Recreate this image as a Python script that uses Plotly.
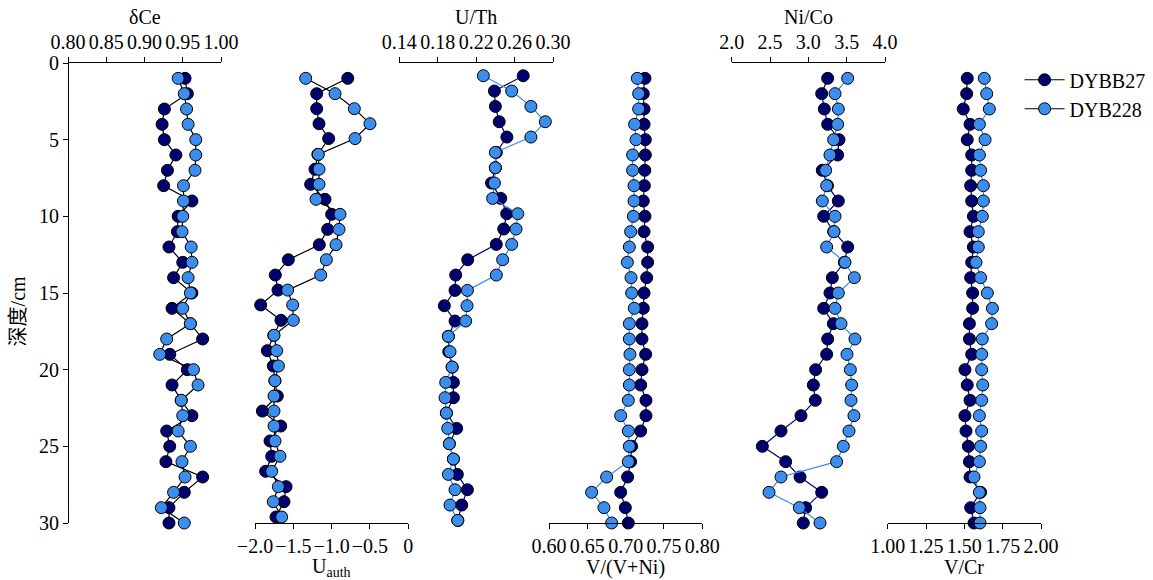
import plotly.graph_objects as go

# ---------------- data ----------------
depth = list(range(1, 31))
depth_uauth = [1.0, 2.0, 2.98, 3.96, 4.93, 5.96, 6.93, 7.91, 8.89, 9.87, 10.85, 11.85, 12.83, 13.83, 14.81,
               15.78, 16.78, 17.76, 18.76, 19.76, 20.72, 21.72, 22.70, 23.68, 24.65, 25.65, 26.63, 27.63, 28.61, 29.61]
depth_uth = [0.83, 1.83, 2.83, 3.83, 4.83, 5.83, 6.83, 7.83, 8.83, 9.83, 10.83, 11.83, 12.83, 13.83, 14.83,
             15.83, 16.83, 17.83, 18.83, 19.83, 20.83, 21.83, 22.83, 23.83, 24.83, 25.83, 26.83, 27.83, 28.83, 29.83]

dce_b27 = [0.953, 0.956, 0.926, 0.923, 0.926, 0.941, 0.930, 0.925, 0.962, 0.944, 0.943, 0.932, 0.950, 0.938, 0.962,
           0.936, 0.960, 0.976, 0.933, 0.956, 0.936, 0.948, 0.962, 0.929, 0.933, 0.928, 0.976, 0.952, 0.932, 0.932]
dce_b228 = [0.944, 0.952, 0.955, 0.957, 0.967, 0.967, 0.966, 0.951, 0.951, 0.950, 0.949, 0.961, 0.962, 0.957, 0.960,
            0.950, 0.960, 0.929, 0.920, 0.964, 0.970, 0.948, 0.950, 0.944, 0.960, 0.949, 0.953, 0.938, 0.922, 0.952]

uauth_b27 = [-0.79, -1.195, -1.195, -1.165, -1.039, -1.18, -1.217, -1.274, -1.087, -1.00, -1.052, -1.161, -1.565, -1.735, -1.70,
             -1.926, -1.661, -1.755, -1.839, -1.761, -1.74, -1.709, -1.904, -1.665, -1.804, -1.782, -1.861, -1.595, -1.622, -1.726]
uauth_b228 = [-1.339, -0.956, -0.704, -0.50, -0.695, -1.174, -1.165, -1.165, -1.204, -0.891, -0.904, -0.943, -1.069, -1.143, -1.574,
              -1.508, -1.50, -1.752, -1.717, -1.695, -1.74, -1.752, -1.752, -1.752, -1.739, -1.674, -1.782, -1.695, -1.761, -1.652]

uth_b27 = [0.269, 0.239, 0.240, 0.244, 0.252, 0.241, 0.240, 0.236, 0.2456, 0.2518, 0.2487, 0.241, 0.2112, 0.1987, 0.198,
           0.1869, 0.198, 0.1911, 0.1915, 0.195, 0.1963, 0.1963, 0.189, 0.1997, 0.1921, 0.1963, 0.2004, 0.2109, 0.205, 0.201]
uth_b228 = [0.2275, 0.257, 0.277, 0.292, 0.277, 0.240, 0.240, 0.239, 0.2372, 0.2633, 0.2615, 0.257, 0.2476, 0.241, 0.2109,
            0.2105, 0.2091, 0.1911, 0.1928, 0.195, 0.1883, 0.1876, 0.189, 0.1904, 0.1921, 0.1963, 0.1911, 0.198, 0.1928, 0.2008]

vvni_b27 = [0.7252, 0.723, 0.724, 0.724, 0.7257, 0.7257, 0.725, 0.7244, 0.723, 0.7252, 0.724, 0.7287, 0.7287, 0.7274, 0.724,
            0.723, 0.7213, 0.7213, 0.7261, 0.7213, 0.7196, 0.7265, 0.7265, 0.7196, 0.7078, 0.7065, 0.7026, 0.6935, 0.6996, 0.7035]
vvni_b228 = [0.7152, 0.717, 0.717, 0.7117, 0.7135, 0.7091, 0.7091, 0.7109, 0.7109, 0.710, 0.7065, 0.7048, 0.7022, 0.707, 0.7078,
             0.7113, 0.7048, 0.7048, 0.7056, 0.7048, 0.7048, 0.7035, 0.6935, 0.7035, 0.7048, 0.7035, 0.6752, 0.6556, 0.6717, 0.6817]

nico_b27 = [3.252, 3.174, 3.208, 3.252, 3.40, 3.382, 3.182, 3.25, 3.391, 3.20, 3.33, 3.513, 3.469, 3.313, 3.282,
            3.20, 3.326, 3.252, 3.239, 3.095, 3.065, 3.091, 2.904, 2.643, 2.40, 2.704, 2.891, 3.174, 2.965, 2.934]
nico_b228 = [3.513, 3.348, 3.391, 3.382, 3.33, 3.282, 3.226, 3.239, 3.182, 3.348, 3.335, 3.239, 3.478, 3.60, 3.391,
             3.348, 3.426, 3.608, 3.504, 3.548, 3.565, 3.556, 3.595, 3.53, 3.456, 3.369, 2.643, 2.487, 2.882, 3.152]

vcr_b27 = [1.519, 1.515, 1.493, 1.537, 1.519, 1.548, 1.548, 1.541, 1.548, 1.559, 1.537, 1.559, 1.548, 1.541, 1.554,
           1.554, 1.533, 1.533, 1.548, 1.504, 1.519, 1.537, 1.504, 1.511, 1.526, 1.533, 1.537, 1.606, 1.541, 1.563]
vcr_b228 = [1.630, 1.646, 1.663, 1.598, 1.635, 1.598, 1.606, 1.624, 1.624, 1.617, 1.591, 1.591, 1.576, 1.606, 1.650,
            1.683, 1.678, 1.617, 1.613, 1.613, 1.620, 1.613, 1.598, 1.613, 1.606, 1.598, 1.563, 1.598, 1.602, 1.602]

depth_ticks = [0, 5, 10, 15, 20, 25, 30]

# ---------------- style ----------------
DARK = "#00006E"
LIGHT = "#3B8EEE"
FONT = "Liberation Serif, Times New Roman, serif"
FS = 20      # titles
FT = 20      # tick labels

L, R, T, B = 68, 112, 63, 57
W, H = 1153, 580
PW = W - L - R
PH = H - T - B


def dom(a, b):
    return [(a - L) / PW, (b - L) / PW]


panels = [
    dict(name="x", title="δCe", b27=dce_b27, b228=dce_b228, d=depth, rng=[0.80, 1.00],
         tv=[0.80, 0.85, 0.90, 0.95, 1.00], tt=["0.80", "0.85", "0.90", "0.95", "1.00"],
         side="top", dom=dom(68, 221), lc=("black", "black")),
    dict(name="x2", title="U<sub>auth</sub>", b27=uauth_b27, b228=uauth_b228, d=depth_uauth, rng=[-2.0, 0.0],
         tv=[-2.0, -1.5, -1.0, -0.5, 0], tt=["\u22122.0", "\u22121.5", "\u22121.0", "\u22120.5", "0"],
         side="bottom", dom=dom(255, 408.3), lc=("black", "black")),
    dict(name="x3", title="U/Th", b27=uth_b27, b228=uth_b228, d=depth_uth, rng=[0.14, 0.30],
         tv=[0.14, 0.18, 0.22, 0.26, 0.30], tt=["0.14", "0.18", "0.22", "0.26", "0.30"],
         side="top", dom=dom(399.3, 553), lc=(DARK, LIGHT)),
    dict(name="x4", title="V/(V+Ni)", b27=vvni_b27, b228=vvni_b228, d=depth, rng=[0.60, 0.80],
         tv=[0.60, 0.65, 0.70, 0.75, 0.80], tt=["0.60", "0.65", "0.70", "0.75", "0.80"],
         side="bottom", dom=dom(549, 702.3), lc=(DARK, LIGHT)),
    dict(name="x5", title="Ni/Co", b27=nico_b27, b228=nico_b228, d=depth, rng=[2.0, 4.0],
         tv=[2.0, 2.5, 3.0, 3.5, 4.0], tt=["2.0", "2.5", "3.0", "3.5", "4.0"],
         side="top", dom=dom(731.7, 885), lc=(DARK, LIGHT)),
    dict(name="x6", title="V/Cr", b27=vcr_b27, b228=vcr_b228, d=depth, rng=[1.0, 2.0],
         tv=[1.00, 1.25, 1.50, 1.75, 2.00], tt=["1.00", "1.25", "1.50", "1.75", "2.00"],
         side="bottom", dom=dom(887.7, 1041), lc=(DARK, LIGHT)),
]

fig = go.Figure()
annotations = []
layout_axes = {}

for i, p in enumerate(panels):
    for series, col, lcol, nm in ((p["b27"], DARK, p["lc"][0], "DYBB27"),
                                  (p["b228"], LIGHT, p["lc"][1], "DYB228")):
        fig.add_trace(go.Scatter(
            x=series, y=p["d"], mode="lines+markers", name=nm,
            xaxis=p["name"], yaxis="y",
            line=dict(color=lcol, width=1.2),
            marker=dict(size=12, color=col, line=dict(color="black", width=1)),
            cliponaxis=False, showlegend=(i == 0),
        ))
    key = "xaxis" if p["name"] == "x" else "xaxis" + p["name"][1:]
    layout_axes[key] = dict(
        domain=p["dom"], range=p["rng"], side=p["side"], anchor="y",
        tickmode="array", tickvals=p["tv"], ticktext=p["tt"], tickangle=0,
        automargin=False,
        showline=True, linecolor="black", linewidth=1,
        ticks="outside", ticklen=5, tickcolor="black", tickwidth=1,
        showgrid=False, zeroline=False,
        tickfont=dict(family=FONT, size=FT, color="black"),
    )
    ya = 1 + 46 / PH if p["side"] == "top" else -(44 / PH)
    annotations.append(dict(
        text=p["title"], xref=p["name"] + " domain", yref="paper", x=0.5, y=ya,
        xanchor="center", yanchor="middle", showarrow=False,
        font=dict(family=FONT, size=FS, color="black"),
    ))

annotations.append(dict(
    text="深度/cm", xref="paper", yref="paper", x=-50 / PW, y=0.46,
    xanchor="center", yanchor="middle", textangle=-90, showarrow=False,
    font=dict(family="Liberation Serif, Noto Sans CJK SC, serif", size=FS, color="black"),
))

fig.update_layout(
    width=W, height=H,
    margin=dict(l=L, r=R, t=T, b=B, pad=0, autoexpand=False),
    paper_bgcolor="white", plot_bgcolor="white",
    yaxis=dict(range=[30, 0], anchor="free", position=0, domain=[0, 1],
               tickmode="array", tickvals=depth_ticks, automargin=False,
               showline=True, linecolor="black", linewidth=1,
               ticks="outside", ticklen=5, tickcolor="black",
               showgrid=False, zeroline=False,
               tickfont=dict(family=FONT, size=FT, color="black")),
    legend=dict(x=0.978, y=1.006, xanchor="left", yanchor="top",
                font=dict(family=FONT, size=20, color="black"),
                bgcolor="rgba(0,0,0,0)", tracegroupgap=0, itemwidth=40),
    annotations=annotations,
    showlegend=True,
    **layout_axes,
)

fig.write_html("out.html")
